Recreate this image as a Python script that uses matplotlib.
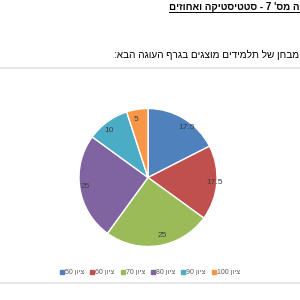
import re
import matplotlib
matplotlib.use("Agg")
import matplotlib.pyplot as plt
from matplotlib.lines import Line2D

plt.rcParams['font.family'] = ['Liberation Sans', 'DejaVu Sans']

# ---- data ----
categories = ["ציון 50", "ציון 60", "ציון 70", "ציון 80", "ציון 90", "ציון 100"]
values = [17.5, 17.5, 25, 25, 10, 5]
colors = ["#4F81BD", "#C0504D", "#9BBB59", "#8064A2", "#4BACC6", "#F79646"]
title_text = "ה מס' 7 - סטטיסטיקה ואחוזים"
subtitle_text = "מבחן של תלמידים מוצגים בגרף העוגה הבא:"


def vis(s):
    """Simple visual ordering for RTL text (matplotlib has no bidi)."""
    r = s[::-1]
    return re.sub(r"[0-9.]+", lambda m: m.group()[::-1], r)


W = H = 300
fig = plt.figure(figsize=(3, 3), dpi=100)
fig.patch.set_facecolor("white")


def fx(x):
    return x / W


def fy(y):
    return 1 - y / H


# title (bold, underlined)
t = fig.text(fx(299.5), fy(7.5), vis(title_text), fontsize=7.0, fontweight="bold",
             ha="right", va="center", color="#000000")
fig.canvas.draw()
bb = t.get_window_extent(renderer=fig.canvas.get_renderer())
fig.add_artist(Line2D([bb.x0 / W, min(bb.x1, W) / W], [fy(12), fy(12)],
                      transform=fig.transFigure, color="black", lw=0.7))

# subtitle
fig.text(fx(299.5), fy(55), vis(subtitle_text), fontsize=7.2,
         ha="right", va="center", color="#000000")

# chart frame lines
for yy in (68, 283):
    fig.add_artist(Line2D([0, 1], [fy(yy), fy(yy)], transform=fig.transFigure,
                          color="#E3E3E3", lw=1.2))

# pie
cx, cy, r = 148, 177.5, 69
ax = fig.add_axes([fx(cx - r), fy(cy + r), 2 * r / W, 2 * r / H])
labels_txt = [f"{v:g}" for v in values]
wedges, texts = ax.pie(values, colors=colors, startangle=90, counterclock=False,
                       labels=labels_txt, labeldistance=0.85,
                       wedgeprops=dict(edgecolor="white", linewidth=1.0),
                       textprops=dict(fontsize=6, color="#404040"))
ax.set_xlim(-1, 1)
ax.set_ylim(-1, 1)
ax.set_aspect("equal")
ax.axis("off")

# legend
handles = [Line2D([], [], marker="s", linestyle="none", markersize=2.5,
                  markerfacecolor=c, markeredgecolor=c) for c in colors]
fig.legend(handles, [vis(c) for c in categories], loc="center",
           bbox_to_anchor=(fx(150), fy(272.5)), ncol=6, frameon=False,
           fontsize=5.0, handlelength=0.5, handletextpad=0.2,
           columnspacing=0.9, labelcolor="#595959")

fig.savefig("out.png", dpi=100, facecolor="white")
